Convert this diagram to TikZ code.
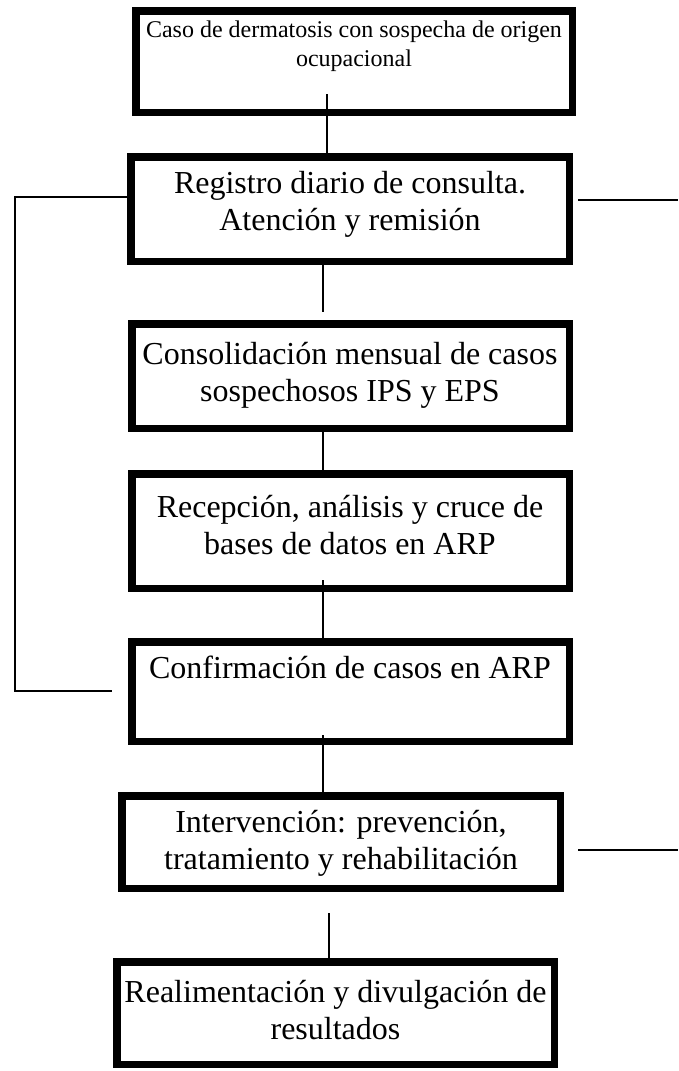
\documentclass[tikz,border=0pt]{standalone}
\usepackage{fontspec}
\setmainfont{Liberation Serif}
\begin{document}
\begin{tikzpicture}[x=1pt,y=-1pt,
  box/.style={draw=black, line width=7.5pt, inner sep=0pt},
  txt/.style={inner sep=0pt, font=\fontsize{32}{37}\selectfont},
  txtsmall/.style={inner sep=0pt, font=\fontsize{24}{29}\selectfont},
  conn/.style={draw=black, line width=1.5pt}]
\useasboundingbox (0,0) rectangle (678,1071);
% boxes
\node[box, minimum width=436.5pt, minimum height=101.5pt] (b1) at (354,61.5) {};
\node[box, minimum width=438.5pt, minimum height=104.5pt] (b2) at (350,209) {};
\node[box, minimum width=437.5pt, minimum height=104.5pt] (b3) at (350.5,376) {};
\node[box, minimum width=437.5pt, minimum height=114.5pt] (b4) at (350.5,531) {};
\node[box, minimum width=437.5pt, minimum height=99.5pt] (b5) at (350.5,691.5) {};
\node[box, minimum width=438.5pt, minimum height=92.5pt] (b6) at (341,842) {};
\node[box, minimum width=437.5pt, minimum height=102.5pt] (b7) at (335.5,1013) {};
% texts
\node[txtsmall, anchor=base] (t1) at (354,37) {\begin{tabular}[t]{@{}c@{}}Caso de dermatosis con sospecha de origen\\ocupacional\end{tabular}};
\node[txt, anchor=base] (t2) at (350,193) {\begin{tabular}[t]{@{}c@{}}Registro diario de consulta.\\Atención y remisión\end{tabular}};
\node[txt, anchor=base] (t3) at (350,364) {\begin{tabular}[t]{@{}c@{}}Consolidación mensual de casos\\sospechosos IPS y EPS\end{tabular}};
\node[txt, anchor=base] (t4) at (350,517) {\begin{tabular}[t]{@{}c@{}}Recepción, análisis y cruce de\\bases de datos en ARP\end{tabular}};
\node[txt, anchor=base] (t5) at (350,678) {Confirmación de casos en ARP};
\node[txt, anchor=base] (t6) at (341,832) {\begin{tabular}[t]{@{}c@{}}Intervención: prevención,\\tratamiento y rehabilitación\end{tabular}};
\node[txt, anchor=base] (t7) at (335.5,1002) {\begin{tabular}[t]{@{}c@{}}Realimentación y divulgación de\\resultados\end{tabular}};
% connector end points
\coordinate (c1a) at (327,94);
\coordinate (c2b) at (323,312);
\coordinate (c3a) at (323,427);
\coordinate (c4a) at (323,580);
\coordinate (c5a) at (323,735);
\coordinate (c6a) at (329,913);
\coordinate (l1) at (15,197);
\coordinate (l2) at (15,691);
\coordinate (l3) at (112,691);
\coordinate (r1s) at (578,200);
\coordinate (r1e) at (678,200);
\coordinate (r2s) at (578,850);
\coordinate (r2e) at (678,850);
% connectors
\draw[conn] (c1a) -- (c1a |- b2.north);
\draw[conn] (b2.south -| c2b) -- (c2b);
\draw[conn] (c3a) -- (c3a |- b4.north);
\draw[conn] (c4a) -- (c4a |- b5.north);
\draw[conn] (c5a) -- (c5a |- b6.north);
\draw[conn] (c6a) -- (c6a |- b7.north);
\draw[conn] (b2.west |- l1) -- (l1) -- (l2) -- (l3);
\draw[conn] (r1s) -- (r1e);
\draw[conn] (r2s) -- (r2e);
\end{tikzpicture}
\end{document}
